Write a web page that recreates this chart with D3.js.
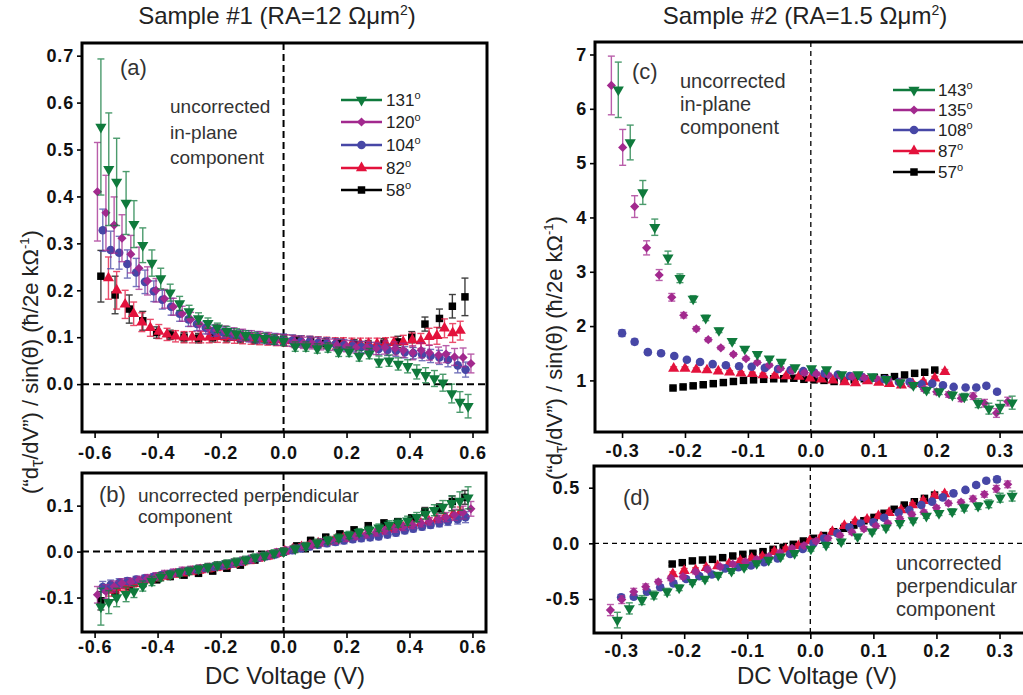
<!DOCTYPE html>
<html>
<head>
<meta charset="utf-8">
<script src="https://cdn.jsdelivr.net/npm/d3@7"></script>
<style>
  body { margin: 0; background: #fff; }
  svg { font-family: "Liberation Sans", Arial, Helvetica, sans-serif; }
</style>
</head>
<body>
<svg id="fig" width="1023" height="695"></svg>
<script>
// ---------- Sample #1 (RA = 12 Ohm um^2) ----------
// voltages (V), in-plane (a) and perpendicular (b) values with error bars
const v1_131 = [-0.58,-0.555,-0.53,-0.50,-0.475,-0.447,-0.418,-0.39,-0.36,-0.33,-0.30,-0.27,-0.24,-0.21,-0.18,-0.15,-0.12,-0.09,-0.06,-0.03,0.0,0.037,0.071,0.107,0.141,0.175,0.208,0.24,0.272,0.303,0.335,0.364,0.394,0.423,0.451,0.479,0.506,0.534,0.56,0.586];
const ip1_131 = [0.548,0.458,0.431,0.386,0.341,0.296,0.258,0.225,0.195,0.172,0.155,0.14,0.13,0.12,0.113,0.108,0.104,0.10,0.098,0.095,0.092,0.08,0.08,0.076,0.078,0.069,0.069,0.06,0.065,0.048,0.05,0.043,0.038,0.026,0.019,0.012,0.003,-0.02,-0.038,-0.047];
const ipe1_131 = [0.145,0.12,0.093,0.067,0.05,0.037,0.028,0.022,0.018,0.015,0.013,0.012,0.011,0.01,0.01,0.01,0.01,0.01,0.01,0.01,0.01,0.01,0.01,0.01,0.01,0.01,0.01,0.011,0.011,0.012,0.012,0.013,0.014,0.015,0.016,0.017,0.018,0.02,0.022,0.025];
const pp1_131 = [-0.12,-0.11,-0.10,-0.093,-0.087,-0.075,-0.064,-0.055,-0.05,-0.046,-0.042,-0.038,-0.034,-0.03,-0.026,-0.022,-0.018,-0.013,-0.009,-0.004,0.0,0.006,0.012,0.019,0.025,0.03,0.036,0.042,0.047,0.052,0.058,0.062,0.067,0.075,0.082,0.09,0.097,0.105,0.11,0.117];
const ppe1_131 = [0.04,0.025,0.02,0.016,0.013,0.011,0.01,0.009,0.008,0.008,0.008,0.008,0.008,0.008,0.008,0.008,0.008,0.008,0.008,0.008,0.008,0.008,0.008,0.008,0.008,0.008,0.008,0.008,0.008,0.008,0.009,0.009,0.01,0.01,0.011,0.012,0.014,0.016,0.02,0.024];

const v1_120 = [-0.591,-0.564,-0.538,-0.513,-0.485,-0.459,-0.432,-0.405,-0.378,-0.35,-0.322,-0.295,-0.267,-0.24,-0.212,-0.185,-0.157,-0.13,-0.102,-0.075,-0.047,-0.02,0.008,0.035,0.063,0.09,0.118,0.145,0.169,0.2,0.23,0.264,0.294,0.322,0.354,0.38,0.41,0.437,0.463,0.492,0.516,0.543,0.57,0.595];
const ip1_120 = [0.41,0.365,0.339,0.311,0.277,0.247,0.22,0.2,0.182,0.165,0.15,0.138,0.128,0.12,0.115,0.112,0.108,0.105,0.102,0.1,0.098,0.095,0.093,0.09,0.088,0.087,0.085,0.084,0.083,0.081,0.078,0.078,0.076,0.078,0.076,0.072,0.067,0.072,0.067,0.062,0.064,0.058,0.057,0.044];
const ipe1_120 = [0.105,0.08,0.06,0.05,0.04,0.045,0.03,0.025,0.02,0.018,0.016,0.015,0.014,0.013,0.012,0.012,0.012,0.012,0.012,0.012,0.012,0.012,0.012,0.012,0.012,0.012,0.012,0.012,0.012,0.012,0.012,0.013,0.013,0.014,0.014,0.015,0.015,0.016,0.016,0.017,0.018,0.018,0.02,0.02];
const pp1_120 = [-0.094,-0.087,-0.076,-0.069,-0.066,-0.062,-0.058,-0.054,-0.049,-0.046,-0.042,-0.04,-0.037,-0.034,-0.031,-0.028,-0.024,-0.02,-0.016,-0.011,-0.007,-0.002,0.002,0.006,0.011,0.016,0.02,0.023,0.025,0.03,0.034,0.038,0.042,0.046,0.05,0.054,0.058,0.062,0.066,0.071,0.075,0.08,0.085,0.093];
const ppe1_120 = [0.018,0.015,0.012,0.01,0.008,0.008,0.008,0.008,0.008,0.008,0.008,0.008,0.008,0.008,0.008,0.008,0.008,0.008,0.008,0.008,0.008,0.008,0.008,0.008,0.008,0.008,0.008,0.008,0.008,0.008,0.008,0.008,0.008,0.008,0.008,0.008,0.008,0.008,0.008,0.008,0.01,0.012,0.014,0.016];

const v1_104 = [-0.574,-0.549,-0.522,-0.496,-0.468,-0.44,-0.412,-0.385,-0.357,-0.33,-0.302,-0.275,-0.247,-0.22,-0.192,-0.165,-0.137,-0.11,-0.082,-0.055,-0.027,0.0,0.028,0.055,0.083,0.11,0.138,0.165,0.192,0.22,0.247,0.275,0.302,0.33,0.357,0.385,0.412,0.44,0.467,0.495,0.522,0.553,0.578];
const ip1_104 = [0.328,0.286,0.28,0.256,0.238,0.218,0.198,0.18,0.165,0.15,0.138,0.128,0.12,0.114,0.11,0.107,0.104,0.102,0.1,0.098,0.096,0.095,0.093,0.091,0.09,0.088,0.087,0.085,0.083,0.081,0.079,0.077,0.075,0.073,0.071,0.068,0.066,0.063,0.06,0.057,0.052,0.04,0.031];
const ipe1_104 = [0.045,0.04,0.035,0.03,0.03,0.025,0.022,0.02,0.018,0.016,0.015,0.014,0.013,0.012,0.012,0.012,0.012,0.012,0.012,0.012,0.012,0.012,0.012,0.012,0.012,0.012,0.012,0.012,0.012,0.012,0.012,0.012,0.012,0.012,0.012,0.012,0.012,0.013,0.014,0.015,0.015,0.016,0.016];
const pp1_104 = [-0.077,-0.072,-0.068,-0.064,-0.061,-0.058,-0.055,-0.051,-0.048,-0.045,-0.042,-0.039,-0.036,-0.033,-0.03,-0.026,-0.022,-0.018,-0.014,-0.01,-0.006,-0.001,0.003,0.007,0.011,0.015,0.018,0.021,0.024,0.027,0.029,0.031,0.033,0.037,0.041,0.046,0.05,0.054,0.058,0.062,0.066,0.07,0.075];
const ppe1_104 = [0.012,0.01,0.009,0.007,0.007,0.007,0.007,0.007,0.007,0.007,0.007,0.007,0.007,0.007,0.007,0.007,0.007,0.007,0.007,0.007,0.007,0.007,0.007,0.007,0.007,0.007,0.007,0.007,0.007,0.007,0.007,0.007,0.007,0.007,0.007,0.007,0.007,0.007,0.007,0.008,0.009,0.01,0.012];

const v1_82 = [-0.556,-0.53,-0.503,-0.476,-0.45,-0.423,-0.396,-0.37,-0.343,-0.316,-0.29,-0.263,-0.236,-0.21,-0.183,-0.156,-0.13,-0.103,-0.076,-0.05,-0.023,0.004,0.03,0.057,0.084,0.11,0.137,0.164,0.19,0.217,0.244,0.27,0.297,0.324,0.35,0.38,0.409,0.436,0.462,0.487,0.511,0.537,0.561];
const ip1_82 = [0.226,0.2,0.17,0.15,0.132,0.12,0.112,0.106,0.102,0.1,0.1,0.1,0.1,0.101,0.1,0.099,0.098,0.097,0.096,0.095,0.094,0.093,0.092,0.091,0.09,0.089,0.088,0.087,0.087,0.086,0.086,0.086,0.086,0.087,0.088,0.09,0.094,0.092,0.101,0.103,0.119,0.109,0.114];
const ipe1_82 = [0.045,0.04,0.03,0.025,0.02,0.018,0.015,0.013,0.012,0.012,0.012,0.012,0.012,0.012,0.012,0.012,0.012,0.012,0.012,0.012,0.012,0.012,0.012,0.012,0.012,0.012,0.012,0.012,0.012,0.012,0.012,0.012,0.012,0.012,0.012,0.014,0.015,0.016,0.018,0.018,0.02,0.02,0.02];
const pp1_82 = [-0.085,-0.08,-0.075,-0.07,-0.065,-0.061,-0.057,-0.053,-0.049,-0.046,-0.043,-0.04,-0.037,-0.034,-0.031,-0.027,-0.023,-0.019,-0.014,-0.01,-0.005,0.001,0.005,0.01,0.014,0.018,0.022,0.026,0.029,0.032,0.035,0.038,0.041,0.045,0.049,0.053,0.057,0.062,0.066,0.07,0.074,0.079,0.085];
const ppe1_82 = [0.012,0.01,0.009,0.007,0.007,0.007,0.007,0.007,0.007,0.007,0.007,0.007,0.007,0.007,0.007,0.007,0.007,0.007,0.007,0.007,0.007,0.007,0.007,0.007,0.007,0.007,0.007,0.007,0.007,0.007,0.007,0.007,0.007,0.007,0.007,0.007,0.007,0.007,0.007,0.008,0.009,0.01,0.012];

const v1_58 = [-0.58,-0.535,-0.49,-0.447,-0.403,-0.36,-0.316,-0.27,-0.225,-0.18,-0.137,-0.091,-0.045,0.0,0.042,0.086,0.134,0.179,0.224,0.269,0.319,0.363,0.407,0.449,0.495,0.536,0.576];
const ip1_58 = [0.23,0.19,0.16,0.135,0.11,0.105,0.1,0.098,0.1,0.1,0.098,0.096,0.095,0.095,0.092,0.09,0.087,0.086,0.085,0.083,0.087,0.09,0.1,0.128,0.14,0.166,0.186];
const ipe1_58 = [0.055,0.04,0.03,0.02,0.012,0.01,0.01,0.01,0.01,0.01,0.01,0.01,0.01,0.01,0.01,0.01,0.01,0.01,0.01,0.01,0.01,0.012,0.012,0.015,0.02,0.025,0.04];
const pp1_58 = [-0.107,-0.09,-0.076,-0.069,-0.061,-0.054,-0.051,-0.047,-0.042,-0.036,-0.029,-0.018,-0.007,0.0,0.012,0.024,0.031,0.038,0.047,0.056,0.062,0.065,0.073,0.087,0.094,0.109,0.118];
const ppe1_58 = [0.02,0.015,0.01,0.008,0.007,0.007,0.007,0.007,0.007,0.007,0.007,0.007,0.007,0.007,0.007,0.007,0.007,0.007,0.007,0.007,0.007,0.007,0.007,0.009,0.01,0.012,0.015];

// ---------- Sample #2 (RA = 1.5 Ohm um^2) ----------
const v2_143 = [-0.306,-0.287,-0.267,-0.248,-0.227,-0.208,-0.187,-0.167,-0.146,-0.125,-0.105,-0.085,-0.066,-0.047,-0.025,0.001,0.025,0.049,0.075,0.098,0.12,0.142,0.163,0.184,0.204,0.225,0.244,0.266,0.283,0.301,0.32];
const ip2_143 = [6.35,5.38,4.46,3.82,3.26,2.88,2.5,2.15,1.92,1.72,1.58,1.48,1.4,1.34,1.24,1.22,1.2,1.11,1.11,1.07,1.02,0.96,0.91,0.82,0.79,0.73,0.70,0.58,0.48,0.51,0.59];
const ipe2_143 = [0.51,0.32,0.22,0.15,0.12,0.08,0.06,0.05,0.04,0.035,0.03,0.03,0.03,0.03,0.03,0.03,0.03,0.03,0.03,0.03,0.03,0.035,0.04,0.05,0.05,0.06,0.06,0.08,0.1,0.12,0.12];
const pp2_143 = [-0.69,-0.585,-0.51,-0.465,-0.435,-0.4,-0.35,-0.32,-0.285,-0.25,-0.215,-0.18,-0.15,-0.12,-0.09,-0.05,-0.015,0.015,0.06,0.105,0.14,0.18,0.205,0.245,0.27,0.285,0.32,0.335,0.355,0.41,0.425];
const ppe2_143 = [0.07,0.05,0.04,0.035,0.03,0.025,0.02,0.02,0.02,0.02,0.02,0.02,0.02,0.02,0.02,0.02,0.02,0.02,0.02,0.02,0.02,0.02,0.02,0.02,0.02,0.025,0.03,0.03,0.035,0.04,0.045];

const v2_135 = [-0.317,-0.299,-0.28,-0.261,-0.241,-0.221,-0.202,-0.182,-0.163,-0.143,-0.123,-0.103,-0.085,-0.066,-0.048,-0.029,-0.01,0.009,0.028,0.047,0.066,0.085,0.104,0.123,0.142,0.161,0.18,0.2,0.219,0.239,0.258,0.276,0.295,0.313];
const ip2_135 = [6.43,5.29,4.2,3.44,2.94,2.53,2.2,1.95,1.75,1.6,1.48,1.4,1.33,1.28,1.22,1.18,1.14,1.12,1.1,1.08,1.07,1.05,1.04,1.02,0.97,0.91,0.84,0.79,0.74,0.67,0.71,0.58,0.40,0.61];
const ipe2_135 = [0.54,0.33,0.2,0.13,0.1,0.07,0.05,0.04,0.035,0.03,0.03,0.03,0.03,0.03,0.03,0.03,0.03,0.03,0.03,0.03,0.03,0.03,0.03,0.03,0.035,0.04,0.04,0.05,0.05,0.06,0.06,0.07,0.08,0.08];
const pp2_135 = [-0.6,-0.506,-0.435,-0.39,-0.345,-0.315,-0.3,-0.255,-0.234,-0.21,-0.186,-0.165,-0.144,-0.12,-0.084,-0.045,-0.02,0.02,0.045,0.07,0.1,0.13,0.155,0.18,0.22,0.26,0.28,0.32,0.36,0.37,0.4,0.44,0.49,0.53];
const ppe2_135 = [0.05,0.035,0.03,0.025,0.02,0.02,0.02,0.02,0.02,0.02,0.02,0.02,0.02,0.02,0.02,0.02,0.02,0.02,0.02,0.02,0.02,0.02,0.02,0.02,0.02,0.02,0.02,0.02,0.02,0.02,0.025,0.025,0.03,0.03];

const v2_108 = [-0.3,-0.28,-0.259,-0.238,-0.217,-0.197,-0.176,-0.156,-0.135,-0.114,-0.094,-0.073,-0.052,-0.032,-0.012,0.005,0.022,0.043,0.062,0.08,0.1,0.117,0.14,0.157,0.176,0.193,0.21,0.227,0.246,0.263,0.279,0.296];
const ip2_108 = [1.87,1.71,1.52,1.5,1.45,1.38,1.34,1.30,1.28,1.26,1.25,1.23,1.21,1.19,1.17,1.15,1.13,1.11,1.08,1.07,1.05,1.02,0.97,0.97,0.93,0.94,0.91,0.88,0.87,0.87,0.9,0.79];
const ipe2_108 = [0.06,0.05,0.04,0.035,0.03,0.03,0.03,0.03,0.03,0.03,0.03,0.03,0.03,0.03,0.03,0.03,0.03,0.03,0.03,0.03,0.03,0.03,0.03,0.03,0.03,0.03,0.03,0.03,0.035,0.035,0.04,0.04];
const pp2_108 = [-0.485,-0.48,-0.435,-0.395,-0.36,-0.32,-0.295,-0.28,-0.225,-0.215,-0.2,-0.17,-0.135,-0.095,-0.05,0.0,0.045,0.09,0.145,0.178,0.188,0.23,0.275,0.3,0.345,0.375,0.413,0.449,0.48,0.524,0.563,0.575];
const ppe2_108 = [0.025,0.02,0.02,0.02,0.02,0.02,0.02,0.02,0.02,0.02,0.02,0.02,0.02,0.02,0.02,0.02,0.02,0.02,0.02,0.02,0.02,0.02,0.02,0.02,0.02,0.02,0.02,0.02,0.02,0.02,0.02,0.025];

const v2_87 = [-0.218,-0.2,-0.182,-0.165,-0.147,-0.129,-0.111,-0.093,-0.076,-0.057,-0.039,-0.019,-0.001,0.017,0.035,0.054,0.071,0.09,0.108,0.125,0.144,0.162,0.179,0.197,0.213];
const ip2_87 = [1.22,1.22,1.2,1.19,1.17,1.15,1.13,1.12,1.1,1.09,1.08,1.07,1.04,1.02,1.0,0.97,0.95,0.99,0.96,0.94,0.91,0.94,0.97,1.04,1.16];
const ipe2_87 = [0.03,0.03,0.03,0.03,0.03,0.03,0.03,0.03,0.03,0.03,0.03,0.03,0.03,0.03,0.03,0.03,0.03,0.03,0.03,0.03,0.03,0.03,0.035,0.035,0.04];
const pp2_87 = [-0.276,-0.246,-0.24,-0.219,-0.204,-0.186,-0.156,-0.135,-0.12,-0.075,-0.054,-0.024,0.021,0.054,0.104,0.158,0.194,0.215,0.245,0.275,0.299,0.344,0.383,0.428,0.443];
const ppe2_87 = [0.02,0.02,0.02,0.02,0.02,0.02,0.02,0.02,0.02,0.02,0.02,0.02,0.02,0.02,0.02,0.02,0.02,0.02,0.02,0.02,0.02,0.02,0.02,0.02,0.02];

const v2_57 = [-0.219,-0.203,-0.187,-0.171,-0.155,-0.139,-0.123,-0.107,-0.091,-0.075,-0.059,-0.043,-0.027,-0.011,0.005,0.021,0.037,0.053,0.069,0.085,0.101,0.117,0.133,0.149,0.165,0.181,0.197];
const ip2_57 = [0.86,0.88,0.9,0.92,0.94,0.96,0.98,1.0,1.01,1.02,1.03,1.03,1.04,1.02,1.01,1.0,0.98,0.99,1.01,1.03,1.05,1.05,1.07,1.1,1.13,1.15,1.19];
const ipe2_57 = [0.02,0.02,0.02,0.02,0.02,0.02,0.02,0.02,0.02,0.02,0.02,0.02,0.02,0.02,0.02,0.02,0.02,0.02,0.02,0.02,0.02,0.02,0.02,0.02,0.02,0.02,0.02];
const pp2_57 = [-0.186,-0.174,-0.158,-0.15,-0.144,-0.129,-0.114,-0.099,-0.09,-0.075,-0.054,-0.036,-0.009,0.021,0.045,0.07,0.104,0.135,0.164,0.203,0.233,0.27,0.306,0.344,0.374,0.404,0.434];
const ppe2_57 = [0.015,0.015,0.015,0.015,0.015,0.015,0.015,0.015,0.015,0.015,0.015,0.015,0.015,0.015,0.015,0.015,0.015,0.015,0.015,0.015,0.015,0.015,0.015,0.015,0.015,0.015,0.015];

// ticks
const xTicks1 = [-0.6, -0.4, -0.2, 0.0, 0.2, 0.4, 0.6];
const xTicks2 = [-0.3, -0.2, -0.1, 0.0, 0.1, 0.2, 0.3];
const yTicksA = [0.0, 0.1, 0.2, 0.3, 0.4, 0.5, 0.6, 0.7];
const yTicksB = [-0.1, 0.0, 0.1];
const yTicksC = [1, 2, 3, 4, 5, 6, 7];
const yTicksD = [-0.5, 0.0, 0.5];

const GREEN = '#0f7a3c', MAGENTA = '#a2298e', BLUE = '#4747a6', RED = '#e3123c', BLACK = '#000000';

const sample1 = [
  { deg: '131', color: GREEN, shape: 'down', v: v1_131, ip: ip1_131, ipe: ipe1_131, pp: pp1_131, ppe: ppe1_131 },
  { deg: '120', color: MAGENTA, shape: 'diamond', v: v1_120, ip: ip1_120, ipe: ipe1_120, pp: pp1_120, ppe: ppe1_120 },
  { deg: '104', color: BLUE, shape: 'circle', v: v1_104, ip: ip1_104, ipe: ipe1_104, pp: pp1_104, ppe: ppe1_104 },
  { deg: '82', color: RED, shape: 'up', v: v1_82, ip: ip1_82, ipe: ipe1_82, pp: pp1_82, ppe: ppe1_82 },
  { deg: '58', color: BLACK, shape: 'square', v: v1_58, ip: ip1_58, ipe: ipe1_58, pp: pp1_58, ppe: ppe1_58 },
];
const sample2 = [
  { deg: '143', color: GREEN, shape: 'down', v: v2_143, ip: ip2_143, ipe: ipe2_143, pp: pp2_143, ppe: ppe2_143 },
  { deg: '135', color: MAGENTA, shape: 'diamond', v: v2_135, ip: ip2_135, ipe: ipe2_135, pp: pp2_135, ppe: ppe2_135 },
  { deg: '108', color: BLUE, shape: 'circle', v: v2_108, ip: ip2_108, ipe: ipe2_108, pp: pp2_108, ppe: ppe2_108 },
  { deg: '87', color: RED, shape: 'up', v: v2_87, ip: ip2_87, ipe: ipe2_87, pp: pp2_87, ppe: ppe2_87 },
  { deg: '57', color: BLACK, shape: 'square', v: v2_57, ip: ip2_57, ipe: ipe2_57, pp: pp2_57, ppe: ppe2_57 },
];

const svg = d3.select('#fig');

const shapes = {
  down: { type: d3.symbolTriangle, size: 54, rot: 180 },
  up: { type: d3.symbolTriangle, size: 54, rot: 0 },
  diamond: { type: d3.symbolSquare, size: 42, rot: 45 },
  circle: { type: d3.symbolCircle, size: 58, rot: 0 },
  square: { type: d3.symbolSquare, size: 56, rot: 0 },
};

function marker(g, shape, color, cx, cy) {
  const s = shapes[shape];
  g.append('path')
    .attr('d', d3.symbol().type(s.type).size(s.size)())
    .attr('transform', `translate(${cx},${cy}) rotate(${s.rot})`)
    .attr('fill', color);
}

const fmt1 = (d) => d.toFixed(1);
const fmt0 = (d) => d.toFixed(0);

const panels = [
  { id: 'a', sample: sample1, key: 'ip', err: 'ipe', l: 82, r: 487, t: 43, b: 432,
    xd: [-0.64, 0.646], yd: [-0.102, 0.727], xt: xTicks1, yt: yTicksA, xf: fmt1, yf: fmt1,
    xPad: 8, yPad: 3, dash: '7,4', dashW: 2 },
  { id: 'b', sample: sample1, key: 'pp', err: 'ppe', l: 82, r: 486, t: 473, b: 632,
    xd: [-0.64, 0.643], yd: [-0.175, 0.171], xt: xTicks1, yt: yTicksB, xf: fmt1, yf: fmt1,
    xPad: 2, yPad: 3, dash: '7,4', dashW: 2 },
  { id: 'c', sample: sample2, key: 'ip', err: 'ipe', l: 595, r: 1026, t: 42, b: 432,
    xd: [-0.343, 0.342], yd: [0.05, 7.23], xt: xTicks2, yt: yTicksC, xf: fmt1, yf: fmt0,
    xPad: 6, yPad: 3, dash: '5,4', dashW: 1.3 },
  { id: 'd', sample: sample2, key: 'pp', err: 'ppe', l: 594, r: 1026, t: 466, b: 633,
    xd: [-0.343, 0.342], yd: [-0.806, 0.695], xt: xTicks2, yt: yTicksD, xf: fmt1, yf: fmt1,
    xPad: 5, yPad: 9, dash: '5,4', dashW: 1.3 },
];

panels.forEach((p) => {
  const x = d3.scaleLinear().domain(p.xd).range([p.l, p.r]);
  const y = d3.scaleLinear().domain(p.yd).range([p.b, p.t]);
  const g = svg.append('g');

  g.append('clipPath').attr('id', 'clip-' + p.id)
    .append('rect').attr('x', p.l).attr('y', p.t).attr('width', p.r - p.l).attr('height', p.b - p.t);

  // dashed zero lines
  g.append('line').attr('x1', x(0)).attr('x2', x(0)).attr('y1', p.t).attr('y2', p.b)
    .attr('stroke', '#000').attr('stroke-width', p.dashW).attr('stroke-dasharray', p.dash);
  if (p.yd[0] < 0) {
    g.append('line').attr('x1', p.l).attr('x2', p.r).attr('y1', y(0)).attr('y2', y(0))
      .attr('stroke', '#000').attr('stroke-width', p.dashW).attr('stroke-dasharray', p.dash);
  }

  const marks = g.append('g').attr('clip-path', `url(#clip-${p.id})`);
  // black first, green on top
  p.sample.slice().reverse().forEach((s) => {
    const vals = s[p.key], errs = s[p.err];
    const eb = marks.append('g').attr('stroke', s.color).attr('stroke-width', 1.4).attr('opacity', 0.75);
    s.v.forEach((v, i) => {
      const cx = x(v), y0 = y(vals[i] - errs[i]), y1 = y(vals[i] + errs[i]);
      eb.append('line').attr('x1', cx).attr('x2', cx).attr('y1', y0).attr('y2', y1);
      eb.append('line').attr('x1', cx - 3.5).attr('x2', cx + 3.5).attr('y1', y0).attr('y2', y0);
      eb.append('line').attr('x1', cx - 3.5).attr('x2', cx + 3.5).attr('y1', y1).attr('y2', y1);
    });
    s.v.forEach((v, i) => marker(marks, s.shape, s.color, x(v), y(vals[i])));
  });

  // axes
  const xa = g.append('g').attr('transform', `translate(0,${p.b})`)
    .call(d3.axisBottom(x).tickValues(p.xt).tickSize(6).tickPadding(p.xPad).tickFormat(p.xf));
  const ya = g.append('g').attr('transform', `translate(${p.l},0)`)
    .call(d3.axisLeft(y).tickValues(p.yt).tickSize(5).tickPadding(p.yPad).tickFormat(p.yf));
  [xa, ya].forEach((a) => {
    a.select('.domain').remove();
    a.selectAll('line').attr('stroke', '#000').attr('stroke-width', 1.6);
    a.selectAll('text').attr('fill', '#111').style('font-size', '18px')
      .style('font-weight', 'bold').style('letter-spacing', '0.8px');
  });

  // frame
  g.append('rect').attr('x', p.l).attr('y', p.t).attr('width', p.r - p.l).attr('height', p.b - p.t)
    .attr('fill', 'none').attr('stroke', '#000').attr('stroke-width', 3);
});

// legends
function legend(sample, lx0, lx1, tx, ys) {
  sample.forEach((s, i) => {
    const g = svg.append('g');
    g.append('line').attr('x1', lx0).attr('x2', lx1).attr('y1', ys[i]).attr('y2', ys[i])
      .attr('stroke', s.color).attr('stroke-width', 2.4);
    marker(g, s.shape, s.color, (lx0 + lx1) / 2, ys[i]);
    const t = g.append('text').attr('x', tx).attr('y', ys[i] + 6)
      .attr('fill', '#222').style('font-size', '17px').text(s.deg);
    t.append('tspan').attr('dy', -7).style('font-size', '11px').text('o');
  });
}
legend(sample1, 341, 382, 386, [100, 122, 145, 168, 190]);
legend(sample2, 893, 935, 938, [90, 110, 130, 151, 172]);

// text annotations
function lines(x, ys, arr, size) {
  arr.forEach((s, i) => svg.append('text').attr('x', x).attr('y', ys[i])
    .attr('fill', '#333').style('font-size', size + 'px').text(s));
}
lines(120, [75], ['(a)'], 22);
lines(170, [113, 139, 164], ['uncorrected', 'in-plane', 'component'], 19);
lines(99, [502], ['(b)'], 22);
lines(138, [502, 523], ['uncorrected perpendicular', 'component'], 19);
lines(632, [79], ['(c)'], 22);
lines(680, [88, 111, 134], ['uncorrected', 'in-plane', 'component'], 20);
lines(623, [505], ['(d)'], 22);
lines(896, [570, 593, 616], ['uncorrected', 'perpendicular', 'component'], 20);

// titles
function title(cx, label) {
  const t = svg.append('text').attr('x', cx).attr('y', 24).attr('text-anchor', 'middle')
    .attr('fill', '#222').style('font-size', '24px').text(label);
  t.append('tspan').attr('dy', -9).style('font-size', '14px').text('2');
  t.append('tspan').attr('dy', 9).text(')');
}
title(277, 'Sample #1 (RA=12 \u03A9\u03BCm');
title(805, 'Sample #2 (RA=1.5 \u03A9\u03BCm');

// x axis titles
svg.append('text').attr('x', 285).attr('y', 684).attr('text-anchor', 'middle')
  .attr('fill', '#222').style('font-size', '24px').text('DC Voltage (V)');
svg.append('text').attr('x', 817).attr('y', 684).attr('text-anchor', 'middle')
  .attr('fill', '#222').style('font-size', '24px').text('DC Voltage (V)');

// y axis titles
function yTitle(x, cy) {
  const t = svg.append('text').attr('transform', `translate(${x},${cy}) rotate(-90)`)
    .attr('text-anchor', 'middle').attr('fill', '#222').style('font-size', '22px');
  t.append('tspan').text('(\u201Cd');
  t.append('tspan').attr('dy', 5).style('font-size', '18px').text('\u03C4');
  t.append('tspan').attr('dy', -5).text('/dV\u201D) / sin(\u03B8) (\u0127/2e k\u03A9');
  t.append('tspan').attr('dy', -9).style('font-size', '13px').text('-1');
  t.append('tspan').attr('dy', 9).text(')');
}
yTitle(38, 362);
yTitle(562, 348);
</script>
</body>
</html>
